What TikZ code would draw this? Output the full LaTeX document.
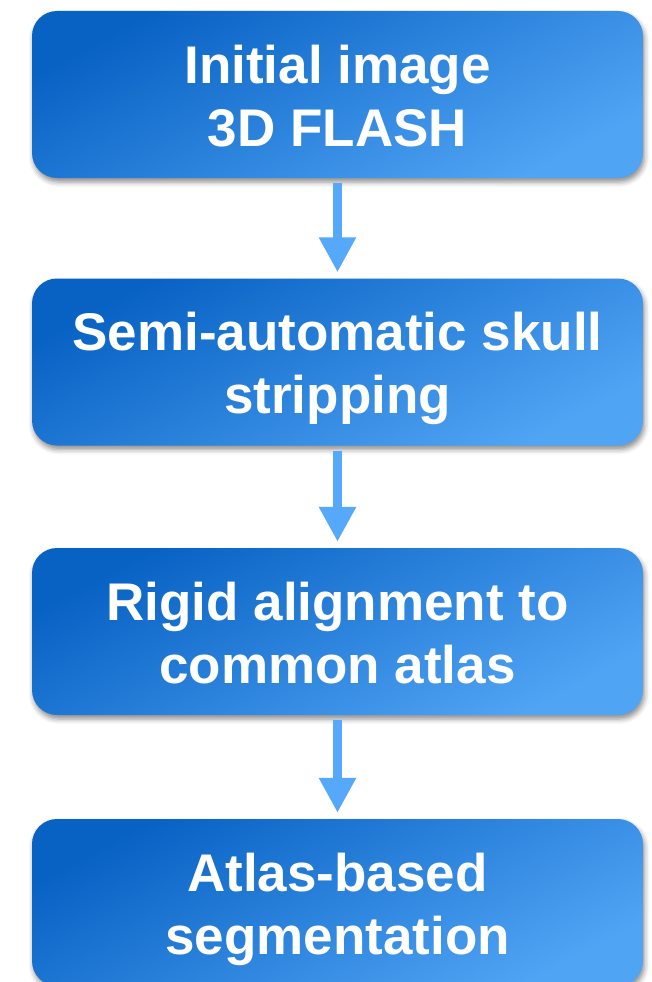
\documentclass[tikz,border=0pt]{standalone}
\usepackage{fontspec}
\setmainfont{Liberation Sans}
\usetikzlibrary{arrows.meta,shadows.blur}
\definecolor{boxdark}{RGB}{8,98,196}
\definecolor{boxlight}{RGB}{80,164,244}
\definecolor{arrowblue}{RGB}{85,168,250}
\tikzset{
  stepbox/.style={rounded corners=25pt, minimum width=611pt, minimum height=167pt,
    inner sep=0pt, draw=none,
    top color=boxdark, bottom color=boxlight, shading angle=28,
    blur shadow={shadow xshift=1.5pt, shadow yshift=-4pt, shadow blur radius=5pt, shadow opacity=45}},
  steptext/.style={anchor=base, text=white, inner sep=0pt,
    font=\fontsize{53pt}{63pt}\selectfont\bfseries},
  flowarrow/.style={draw=arrowblue, line width=9pt,
    -{Triangle[width=35pt,length=35pt,fill=arrowblue]}}
}
\begin{document}
\begin{tikzpicture}[x=1pt,y=1pt]
\useasboundingbox (0,0) rectangle (651,-982);
\node[stepbox] (b1) at (337.5,-94.5) {};
\node[stepbox] (b2) at (337.5,-362) {};
\node[stepbox] (b3) at (337.5,-631.5) {};
\node[stepbox] (b4) at (337.5,-902.5) {};
\node[steptext] (t1a) at ([yshift=11.5pt]b1.center) {Initial image};
\node[steptext] (t1b) at ([yshift=-51.5pt]b1.center) {3D FLASH};
\node[steptext] (t2a) at ([yshift=11.5pt]b2.center) {Semi-automatic skull};
\node[steptext] (t2b) at ([yshift=-51.5pt]b2.center) {stripping};
\node[steptext] (t3a) at ([yshift=11.5pt]b3.center) {Rigid alignment to};
\node[steptext] (t3b) at ([yshift=-51.5pt]b3.center) {common atlas};
\node[steptext] (t4a) at ([yshift=11.5pt]b4.center) {Atlas-based};
\node[steptext] (t4b) at ([yshift=-51.5pt]b4.center) {segmentation};
\draw[flowarrow] ([yshift=-5pt]b1.south) -- ([yshift=6pt]b2.north);
\draw[flowarrow] ([yshift=-5pt]b2.south) -- ([yshift=6pt]b3.north);
\draw[flowarrow] ([yshift=-5pt]b3.south) -- ([yshift=6pt]b4.north);
\end{tikzpicture}
\end{document}
